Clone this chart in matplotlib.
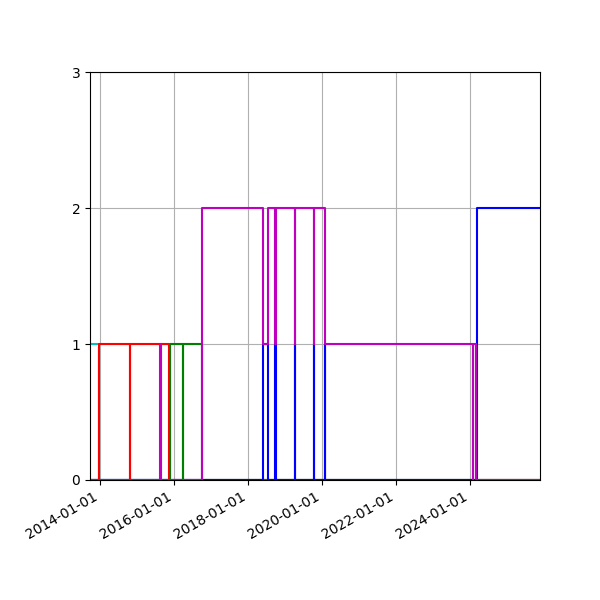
import numpy as np
import pandas as pd
import matplotlib
matplotlib.use("Agg")
import matplotlib.pyplot as plt
import matplotlib.dates as mdates

END = "2025-11-20"

cyan_dates = ["2013-09-20", "2013-12-20", END]
cyan_vals = [1, 0, 0]

red_dates = ["2013-09-20", "2013-12-25", "2014-10-20", "2014-10-28", "2015-11-15", "2015-11-22", END]
red_vals = [0, 1, 0, 1, 0, 0, 0]

magenta_dates = ["2013-09-20", "2015-08-12", "2015-08-22", "2016-10-03",
                 "2018-05-26", "2018-07-18", "2018-09-22", "2018-09-30",
                 "2019-04-05", "2019-04-12", "2019-10-10", "2019-10-16",
                 "2020-01-30", "2024-01-25", "2024-01-30", "2024-02-25", "2024-03-02", END]
magenta_vals = [0, 1, 0, 2,
                1, 2, 1, 2,
                1, 2, 1, 2,
                1, 0, 1, 0, 0, 0]

green_dates = ["2013-09-20", "2015-11-18", "2016-03-25", "2016-04-01", "2016-10-03", END]
green_vals = [0, 1, 0, 1, 0, 0]

blue_dates = ["2013-09-20", "2018-05-26", "2018-07-18", "2018-09-22", "2018-09-30",
              "2019-04-05", "2019-04-12", "2019-10-10", "2019-10-16",
              "2020-01-28", "2020-02-02", "2024-03-10", END]
blue_vals = [0, 1, 0, 1, 0,
             1, 0, 1, 0,
             1, 0, 2, 2]

series = [
    (cyan_dates, cyan_vals, "c"),
    (red_dates, red_vals, "r"),
    (green_dates, green_vals, "g"),
    (blue_dates, blue_vals, "b"),
    (magenta_dates, magenta_vals, "m"),
]

fig, ax = plt.subplots(figsize=(6, 6), dpi=100)
fig.subplots_adjust(left=0.15, right=0.9, top=0.88, bottom=0.2)
for d, v, c in series:
    ax.step(pd.to_datetime(d), v, where="post", color=c, lw=1.5)

ax.set_xlim(pd.Timestamp("2013-09-24"), pd.Timestamp(END))
ax.set_ylim(0, 3)
ax.set_yticks([0, 1, 2, 3])
ax.xaxis.set_major_locator(mdates.YearLocator(2))
ax.xaxis.set_major_formatter(mdates.DateFormatter("%Y-%m-%d"))
ax.grid(True)
fig.autofmt_xdate()
fig.savefig("out.png")
